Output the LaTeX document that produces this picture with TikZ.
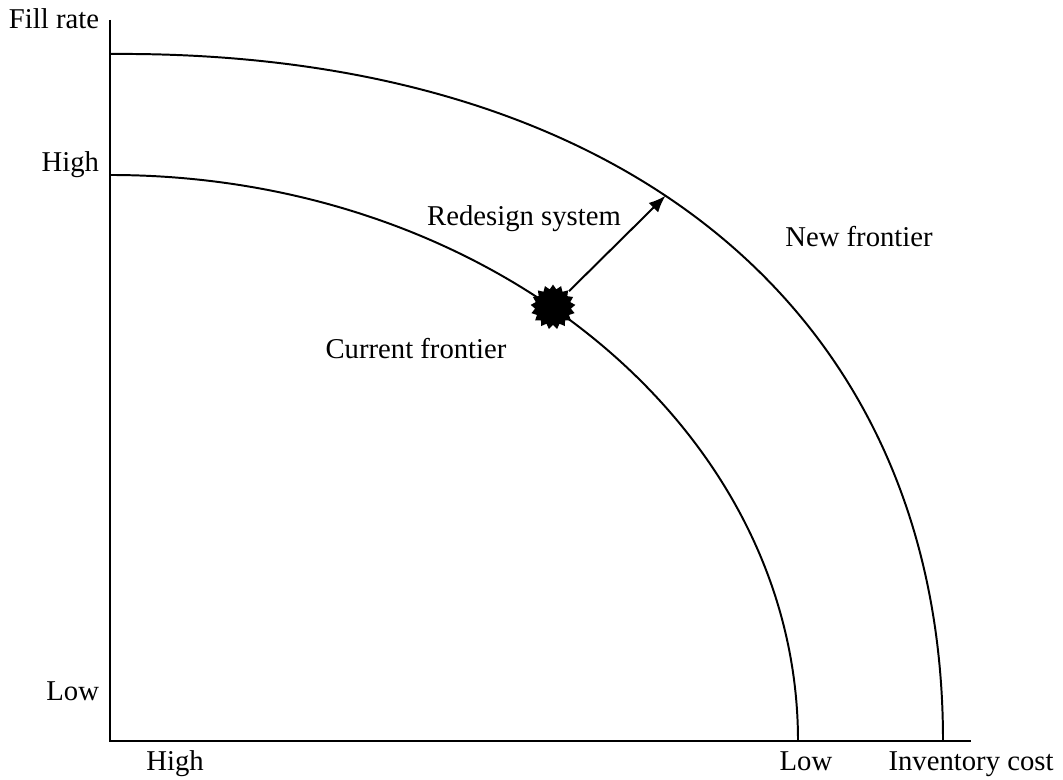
\documentclass[tikz,border=0pt]{standalone}
\usepackage{fontspec}
\setmainfont{Liberation Serif}
\usepackage{tikz}
\usetikzlibrary{shapes, arrows.meta, positioning}
\tikzstyle{axislabel} = [inner sep=0pt, anchor=base]
\tikzstyle{ylabel} = [inner sep=0pt, anchor=base east]
\tikzstyle{burst} = [star, star points=17, star point ratio=1.25, fill=black, draw=none, minimum size=1.12cm, inner sep=0pt]

\begin{document}
\begin{tikzpicture}[x=0.025cm, y=0.025cm, line width=1.4pt, >={Latex[length=12pt,width=9.5pt]},
    every node/.style={font=\fontsize{20.4}{24}\selectfont}]
    \useasboundingbox (0,0) rectangle (1063,780);
    % We start by placing the axes
    \coordinate (origin) at (110,39);
    \coordinate (ytop) at (110,760);
    \coordinate (xend) at (971,39);
    \draw (ytop) -- (origin) -- (xend);

    \node [ylabel] (fillrate) at (100,751) {Fill rate};
    \node [ylabel] (yhigh) at (100,608) {High};
    \node [ylabel] (ylow) at (100,79) {Low};
    \node [axislabel] (xhigh) at (175,9) {High};
    \node [axislabel] (xlow) at (806,9) {Low};
    \node [axislabel] (xlabel) at (971,9) {Inventory cost};

    % the two frontiers
    \coordinate (curtop) at (110,605);
    \draw (curtop) arc[start angle=90, end angle=0, x radius=688, y radius=566];
    \coordinate (newtop) at (110,726);
    \coordinate (newend) at (943,39);
    \draw (newtop) .. controls (626,730) and (943,465) .. (newend) coordinate[pos=0.44] (tip);

    \node [burst] (point) at (553,473) {};
    \draw[->] (point) -- (tip);

    \node [axislabel] (redesign) at (524,554) {Redesign system};
    \node [axislabel] (current) at (416,421) {Current frontier};
    \node [axislabel] (new) at (859,533) {New frontier};
\end{tikzpicture}
\end{document}
